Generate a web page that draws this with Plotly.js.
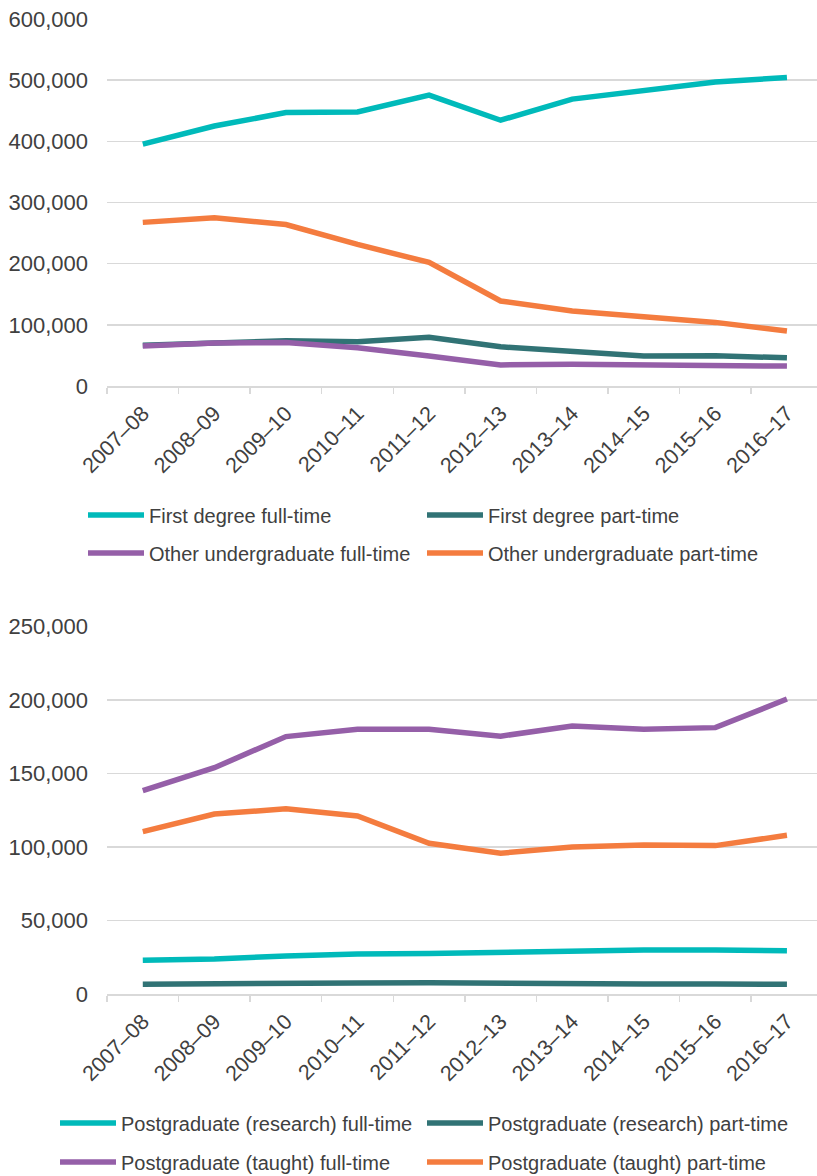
<!DOCTYPE html>
<html>
<head>
<meta charset="utf-8">
<script src="https://cdn.plot.ly/plotly-3.0.1.min.js"></script>
<style>
html,body{margin:0;padding:0;background:#fff;overflow:hidden;}
#chart{width:817px;height:1176px;}
</style>
</head>
<body>
<div id="chart"></div>
<script>
// Academic years (categories)
const years = ["2007–08","2008–09","2009–10","2010–11","2011–12","2012–13","2013–14","2014–15","2015–16","2016–17"];

// Undergraduate series
const firstDegreeFullTime = [395500, 425000, 447000, 448000, 475500, 434500, 469000, 482000, 497000, 504500];
const firstDegreePartTime = [66500, 71000, 74000, 72500, 79500, 64000, 57000, 49000, 49500, 46000];
const otherUgFullTime     = [65500, 70500, 71000, 62500, 49000, 34500, 35500, 34500, 31500, 32500];
const otherUgPartTime     = [267500, 275000, 264000, 231500, 202000, 139000, 122500, 113500, 104000, 90000];

// Postgraduate series
const pgResearchFullTime = [22900, 23800, 25900, 27200, 27500, 28400, 29700, 30000, 30000, 29500];
const pgResearchPartTime = [6600, 7200, 7500, 7500, 7600, 7100, 7000, 6800, 6800, 6600];
const pgTaughtFullTime   = [138500, 154000, 175200, 180200, 180200, 175500, 182400, 180200, 181300, 200800];
const pgTaughtPartTime   = [110500, 122500, 126000, 121200, 102600, 95800, 100100, 101400, 101000, 108000];

const topTicks = [0, 100000, 200000, 300000, 400000, 500000, 600000];
const botTicks = [0, 50000, 100000, 150000, 200000, 250000];

const C_TEAL = "#00BABA", C_DARK = "#317375", C_PURPLE = "#955FA8", C_ORANGE = "#F47C3F";
const FONT = "Liberation Sans, Arial, sans-serif";
const W = 817, H = 1176;

function tr(name, y, color, xa, ya, legend){
  return {type:"scatter", mode:"lines", x:years, y:y, name:name,
    line:{color:color, width:5.5}, xaxis:xa, yaxis:ya, legend:legend, hoverinfo:"skip"};
}

const data = [
  tr("First degree full-time", firstDegreeFullTime, C_TEAL, "x", "y", "legend"),
  tr("First degree part-time", firstDegreePartTime, C_DARK, "x", "y", "legend2"),
  tr("Other undergraduate full-time", otherUgFullTime, C_PURPLE, "x", "y", "legend3"),
  tr("Other undergraduate part-time", otherUgPartTime, C_ORANGE, "x", "y", "legend4"),
  tr("Postgraduate (research) full-time", pgResearchFullTime, C_TEAL, "x2", "y2", "legend5"),
  tr("Postgraduate (research) part-time", pgResearchPartTime, C_DARK, "x2", "y2", "legend6"),
  tr("Postgraduate (taught) full-time", pgTaughtFullTime, C_PURPLE, "x2", "y2", "legend7"),
  tr("Postgraduate (taught) part-time", pgTaughtPartTime, C_ORANGE, "x2", "y2", "legend8")
];

function dom(topPx, botPx){ return [1 - botPx / H, 1 - topPx / H]; }

const xCommon = {type:"category", range:[-0.5, 9.42], tickson:"boundaries", ticks:"outside",
  ticklen:6, tickwidth:1.5, tickcolor:"#D9D9D9", showline:true, linecolor:"#D9D9D9", linewidth:1.5,
  showgrid:false, tickangle:-45, ticklabelstandoff:5, tickfont:{family:FONT, size:21.5, color:"#404040"}, fixedrange:true, zeroline:false};
const yCommon = {showgrid:true, gridcolor:"#D9D9D9", gridwidth:1.5, zeroline:false, showline:false,
  ticks:"", tickformat:",d", tickfont:{family:FONT, size:22, color:"#404040"}, ticklabelstandoff:18, fixedrange:true};

function legendAt(xPx, yPx){
  return {orientation:"h", xref:"container", yref:"container", x:xPx/W, xanchor:"left", y:1 - yPx/H, yanchor:"middle",
    itemwidth:56, font:{family:FONT, size:20, color:"#404040"}, bgcolor:"rgba(0,0,0,0)", borderwidth:0};
}

const layout = {
  width:W, height:H, margin:{l:107, r:0, t:0, b:0, autoexpand:false},
  paper_bgcolor:"#fff", plot_bgcolor:"#fff", showlegend:true,
  xaxis: Object.assign({}, xCommon, {anchor:"y", domain:[0,1]}),
  yaxis: Object.assign({}, yCommon, {anchor:"x", domain:dom(19, 386), range:[0, 600000], tickvals:topTicks}),
  xaxis2: Object.assign({}, xCommon, {anchor:"y2", domain:[0,1]}),
  yaxis2: Object.assign({}, yCommon, {anchor:"x2", domain:dom(626.7, 994), range:[0, 250000], tickvals:botTicks}),
  legend:  legendAt(83, 515),
  legend2: legendAt(422, 515),
  legend3: legendAt(83, 553),
  legend4: legendAt(422, 553),
  legend5: legendAt(55, 1123),
  legend6: legendAt(422, 1123),
  legend7: legendAt(55, 1162),
  legend8: legendAt(422, 1162)
};

Plotly.newPlot("chart", data, layout, {displayModeBar:false, staticPlot:true});
</script>
</body>
</html>
